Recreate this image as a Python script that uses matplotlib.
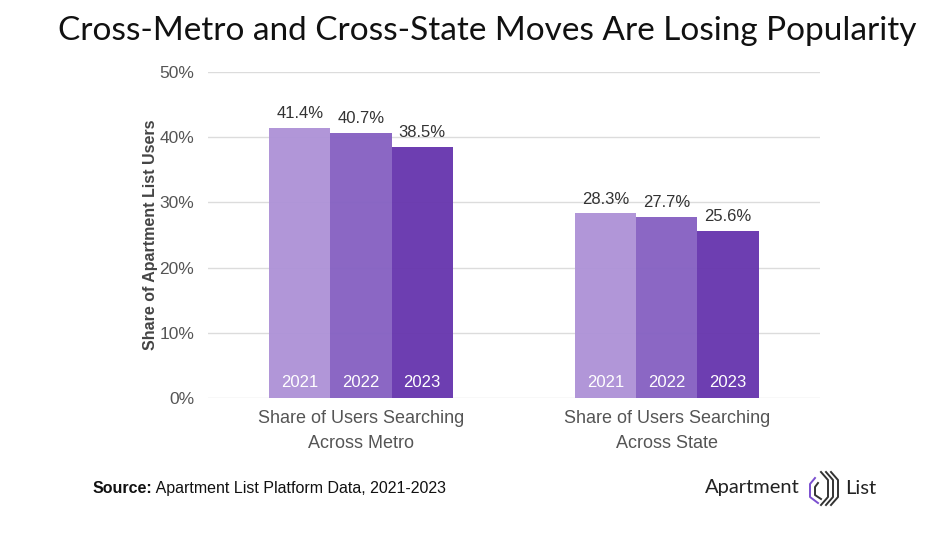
import numpy as np
import matplotlib
matplotlib.use("Agg")
import matplotlib.pyplot as plt

# data
groups = ["Share of Users Searching\nAcross Metro", "Share of Users Searching\nAcross State"]
years = ["2021", "2022", "2023"]
values = {
    "2021": [41.4, 28.3],
    "2022": [40.7, 27.7],
    "2023": [38.5, 25.6],
}
colors = ["#ae92d7", "#8661c2", "#6736ae"]
yticks = [0, 10, 20, 30, 40, 50]

plt.rcParams['font.family'] = ['Liberation Sans', 'DejaVu Sans']

W, H = 950, 534
fig = plt.figure(figsize=(9.5, 5.34), dpi=100)
ax = fig.add_axes([0.219, 0.2547, 0.644, 0.6105])

x = np.arange(len(groups))
w = 0.2
for i, yr in enumerate(years):
    pos = x + (i - 1) * w
    bars = ax.bar(pos, values[yr], width=w, color=colors[i], alpha=0.96, zorder=2)
    for b, v in zip(bars, values[yr]):
        ax.annotate(f"{v}%", (b.get_x() + w / 2, v), xytext=(0, 5),
                    textcoords="offset points", ha="center", va="bottom",
                    fontsize=12, color="#333333")
        ax.annotate(yr, (b.get_x() + w / 2, 0), xytext=(0, 11),
                    textcoords="offset points", ha="center", va="center",
                    fontsize=12, color="white")

ax.set_xlim(-0.5, 1.5)
ax.set_ylim(0, 50)
ax.set_yticks(yticks)
ax.set_yticklabels([f"{t}%" for t in yticks])
ax.set_xticks(x)
ax.set_xticklabels(groups, linespacing=1.55)
ax.grid(axis="y", color="#dcdcdc", linewidth=1, zorder=0)
ax.set_axisbelow(True)
for s in ax.spines.values():
    s.set_visible(False)
ax.tick_params(axis="y", length=0, pad=10, labelsize=12.5, labelcolor="#555555")
ax.tick_params(axis="x", length=0, pad=9, labelsize=13, labelcolor="#555555")
ax.set_ylabel("Share of Apartment List Users", fontsize=11.5, fontweight="bold",
              color="#444444", labelpad=1)

fig.text(0.513, 0.942, "Cross-Metro and Cross-State Moves Are Losing Popularity",
         ha="center", va="center", fontsize=24, family=["Lato", "DejaVu Sans"], color="#111111")

src = fig.text(0.097, 0.086, "Source:", fontsize=11.5, fontweight="bold", ha="left",
               va="center", color="#111111")
ax.annotate(" Apartment List Platform Data, 2021-2023", xy=(1, 0.5), xycoords=src,
            ha="left", va="center", fontsize=11.5, color="#111111", annotation_clip=False)

# logo
fig.text(705 / W, 1 - 488 / H, "Apartment", fontsize=14.5, ha="left", va="center",
         family=["Lato", "DejaVu Sans"], color="#222222")
fig.text(845 / W, 1 - 488 / H, "List", fontsize=14.5, ha="left", va="center",
         family=["Lato", "DejaVu Sans"], color="#222222")


def stroke(px, py, c):
    fig.add_artist(plt.Line2D([p / W for p in px], [1 - p / H for p in py],
                              color=c, linewidth=1.4, transform=fig.transFigure))


stroke([815, 810, 810, 818], [478, 484, 497, 503], "#7b4fd0")
stroke([818, 815, 815, 821], [483, 487, 495, 499], "#333333")
for k in range(3):
    dx = 5 * k
    stroke([821 + dx, 828 + dx, 828 + dx, 821 + dx], [472, 480, 497, 505], "#333333")

fig.savefig("out.png", dpi=100)
